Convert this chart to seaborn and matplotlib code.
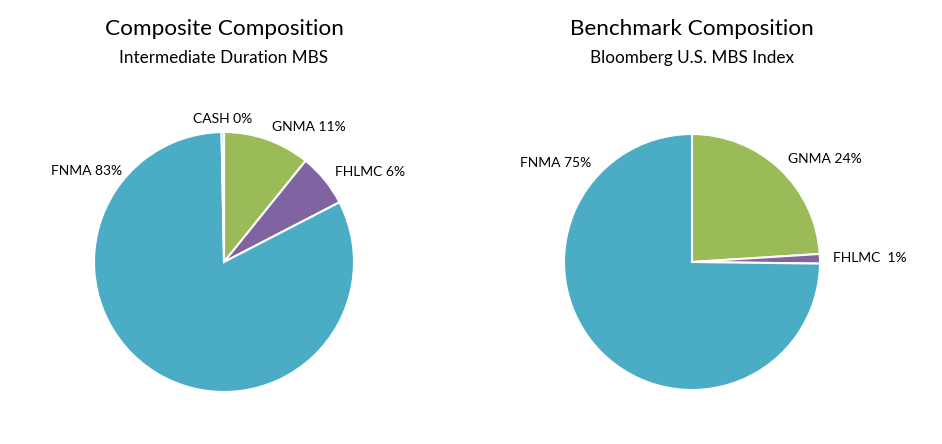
import numpy as np
import seaborn as sns
from matplotlib import pyplot as plt

sns.set_theme(style="white")
plt.rcParams['font.family'] = ['Lato', 'DejaVu Sans']
plt.rcParams['text.color'] = 'black'

# データ
comp_labels = ['GNMA 11%', 'FHLMC 6%', 'FNMA 83%', 'CASH 0%']
comp_values = [10.8, 6.6, 82.3, 0.3]
bench_labels = ['GNMA 24%', 'FHLMC  1%', 'FNMA 75%']
bench_values = [24.0, 1.2, 74.8]

pal = {'GNMA': '#9BBB59', 'FHLMC': '#8064A2', 'FNMA': '#4BACC6', 'CASH': '#4BACC6'}

W, H = 942, 444
fig = plt.figure(figsize=(W / 100, H / 100), dpi=100)


def draw_pie(x0, x1, cx, cy, r, values, labels, title, subtitle, fnma_pos):
    # 軸の位置(ピクセル)から作る
    top = 70
    ax = fig.add_axes([x0 / W, 0, (x1 - x0) / W, (H - top) / H])
    colors = [pal[l.split()[0]] for l in labels]
    wedges, texts = ax.pie(values, labels=labels, colors=colors, startangle=90,
                           counterclock=False, labeldistance=1.1,
                           wedgeprops=dict(edgecolor='white', linewidth=1.5),
                           textprops=dict(fontsize=10, color='black'))
    for t in texts:
        t.set_va('center')
        if t.get_text().startswith('FNMA'):
            t.set_position(fnma_pos)
            t.set_ha('right')
        if t.get_text().startswith('CASH'):
            t.set_ha('center')
    ax.set_xlim((x0 - cx) / r, (x1 - cx) / r)
    ax.set_ylim(-(H - cy) / r, (cy - top) / r)
    ax.set_aspect('equal')
    xc = cx / W
    fig.text(xc, 1 - 29 / H, title, ha='center', va='center', fontsize=16.2)
    fig.text(xc, 1 - 58 / H, subtitle, ha='center', va='center', fontsize=12.3)


draw_pie(0, 471, 224, 262, 130, comp_values, comp_labels,
         'Composite Composition', 'Intermediate Duration MBS', (-0.785, 0.70))
draw_pie(471, 942, 692, 262, 128, bench_values, bench_labels,
         'Benchmark Composition', 'Bloomberg U.S. MBS Index', (-0.79, 0.77))

fig.savefig('out.png', dpi=100)
